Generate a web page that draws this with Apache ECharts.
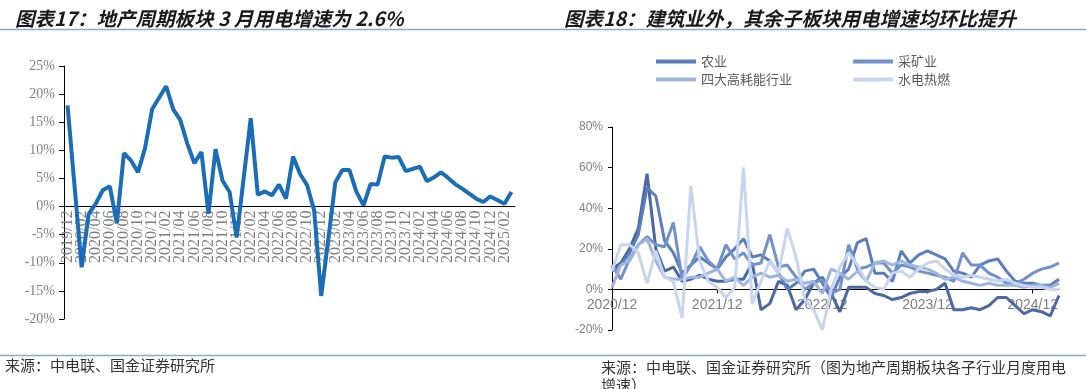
<!DOCTYPE html>
<html><head><meta charset="utf-8">
<script src="https://cdn.jsdelivr.net/npm/echarts@6/dist/echarts.min.js"></script>
<style>html,body{margin:0;padding:0;background:#fff}#c{width:1086px;height:389px}</style>
</head><body><div id="c"></div>
<script>
const titleLeft = '图表17：地产周期板块 3 月用电增速为 2.6%';
const titleRight = '图表18：建筑业外，其余子板块用电增速均环比提升';
const sourceLeft = '来源：中电联、国金证券研究所';
const sourceRight = '来源：中电联、国金证券研究所（图为地产周期板块各子行业月度用电增速）';

const leftCategories = ['2019/12',
 '2020/01','2020/02','2020/03','2020/04','2020/05','2020/06','2020/07','2020/08','2020/09','2020/10','2020/11','2020/12',
 '2021/01','2021/02','2021/03','2021/04','2021/05','2021/06','2021/07','2021/08','2021/09','2021/10','2021/11','2021/12',
 '2022/01','2022/02','2022/03','2022/04','2022/05','2022/06','2022/07','2022/08','2022/09','2022/10','2022/11','2022/12',
 '2023/01','2023/02','2023/03','2023/04','2023/05','2023/06','2023/07','2023/08','2023/09','2023/10','2023/11','2023/12',
 '2024/01','2024/02','2024/03','2024/04','2024/05','2024/06','2024/07','2024/08','2024/09','2024/10','2024/11','2024/12',
 '2025/01','2025/02','2025/03'];
const leftValues = [18.0,
 null,-10.8,-1.3,0.5,2.9,3.6,-3.0,9.5,8.2,6.1,10.4,17.3,
 null,21.4,17.3,15.4,11.2,7.7,9.7,-1.3,10.2,4.6,2.6,-5.5,
 null,15.7,2.1,2.7,2.0,3.9,1.4,8.9,5.8,3.8,-0.7,-15.9,
 null,4.3,6.5,6.5,2.6,0.2,4.0,3.9,8.9,8.7,8.8,6.3,
 null,7.1,4.5,5.2,6.1,5.1,4.0,3.2,2.3,1.4,0.8,1.8,
 null,0.5,2.6];

const rightCategories = ['2020/12',
 '2021/01','2021/02','2021/03','2021/04','2021/05','2021/06','2021/07','2021/08','2021/09','2021/10','2021/11','2021/12',
 '2022/01','2022/02','2022/03','2022/04','2022/05','2022/06','2022/07','2022/08','2022/09','2022/10','2022/11','2022/12',
 '2023/01','2023/02','2023/03','2023/04','2023/05','2023/06','2023/07','2023/08','2023/09','2023/10','2023/11','2023/12',
 '2024/01','2024/02','2024/03','2024/04','2024/05','2024/06','2024/07','2024/08','2024/09','2024/10','2024/11','2024/12',
 '2025/01','2025/02','2025/03'];
const construction = [10,13,20,30,57,20,9,11,4,5,7,5,4,4,5,5,13,-10,-7,4,2,-10,-5,3,6,-2,-11,1,1,1,-2,-3,-5,-4,-2,-1,-1,0,3,-10,-10,-9,-10,-8,-4,-4,-8,-12,-10,-11,-13,-3];
const agriculture = [9,12,18,27,50,46,24,18,8,12,16,13,10,16,20,25,16,17,14,8,0,3,9,10,3,-4,6,10,23,25,8,8,4,19,13,17,19,17,15,9,8,6,12,14,15,9,4,3,3,2,2,5];
const mining = [12,5,15,22,26,22,21,33,5,12,21,14,10,22,15,18,12,13,27,11,12,6,0,3,5,-2,0,22,10,11,13,13,8,12,11,9,8,7,6,4,18,12,12,8,6,3,3,5,8,10,11,13];
const heavyIndustry = [1,12,14,22,25,14,6,5,5,6,6,8,10,4,6,2,6,8,6,7,4,5,3,4,-2,10,8,5,9,4,13,14,12,14,12,11,10,8,5,6,4,3,2,3,2,2,2,1,2,2,1,3];
const utilities = [9,22,22,18,3,19,6,4,-14,51,14,4,1,-4,1,60,-7,4,14,8,30,16,-5,-10,-20,0,11,18,12,4,1,0,8,9,6,10,13,14,10,7,6,7,6,5,4,5,3,2,1,1,0,0];

const CJK = '"Noto Sans CJK SC"';
const chart = echarts.init(document.getElementById('c'), null, {renderer:'canvas'});
const axisBlack = {color:'#000', width:1};
const gray = '#7f7f7f';
const L = {left:64, top:66, bottom:70, h:253};
const R = {left:612, top:127, bottom:59, h:203};
const leftZeroOffset = -(L.h * 20/45);
const rightZeroOffset = -(R.h * 20/100);
function rline(name, data, color){
  return {name, type:'line', xAxisIndex:1, yAxisIndex:1, data, symbol:'none', smooth:false,
    lineStyle:{width:3, color}, itemStyle:{color}, emphasis:{disabled:true}};
}
chart.setOption({
  animation:false,
  title:[
    {text:titleLeft, left:10, top:4, textStyle:{fontFamily:CJK, fontSize:19.5, fontWeight:'bold', fontStyle:'italic', color:'#1a1a1a'}},
    {text:titleRight, left:559, top:4, textStyle:{fontFamily:CJK, fontSize:19.5, fontWeight:'bold', fontStyle:'italic', color:'#1a1a1a'}}
  ],
  graphic:[
    {type:'line', shape:{x1:0,y1:29.5,x2:1086,y2:29.5}, style:{stroke:'#8eabc0', lineWidth:1.5}},
    {type:'line', shape:{x1:0,y1:355.5,x2:1086,y2:355.5}, style:{stroke:'#8eabc0', lineWidth:1.5}},
    {type:'text', left:5, top:358, style:{text:sourceLeft, font:'15px '+CJK, fill:'#333'}},
    {type:'text', left:601, top:358, style:{text:sourceRight, width:472, overflow:'break', lineHeight:18, font:'15px '+CJK, fill:'#333'}}
  ],
  grid:[
    {left:L.left, right:571, top:L.top, bottom:L.bottom},
    {left:R.left, right:27, top:R.top, bottom:R.bottom}
  ],
  legend:[
    {data:['农业','四大高耗能行业'], left:651, top:50, orient:'vertical', icon:'rect', itemWidth:40, itemHeight:4, itemGap:5,
     textStyle:{fontFamily:CJK, fontSize:13, color:'#595959'}},
    {data:['采矿业','水电热燃'], left:848, top:50, orient:'vertical', icon:'rect', itemWidth:40, itemHeight:4, itemGap:5,
     textStyle:{fontFamily:CJK, fontSize:13, color:'#595959'}}
  ],
  xAxis:[
    {type:'category', gridIndex:0, data:leftCategories, boundaryGap:true, position:'bottom', offset:leftZeroOffset,
     axisLine:{onZero:false, lineStyle:axisBlack},
     axisTick:{interval:1, length:4, lineStyle:axisBlack},
     axisLabel:{interval:0, formatter:(v, i)=> (i % 2 === 0 ? v : ''), rotate:90, margin:4,
       fontFamily:'Liberation Serif', fontSize:16, color:gray}},
    {type:'category', gridIndex:1, data:rightCategories, boundaryGap:false, position:'bottom', offset:rightZeroOffset,
     axisLine:{onZero:false, lineStyle:axisBlack},
     axisTick:{interval:11, length:4, lineStyle:axisBlack},
     axisLabel:{interval:11, margin:9, fontFamily:'Liberation Sans', fontSize:14, color:gray}}
  ],
  yAxis:[
    {type:'value', gridIndex:0, min:-20, max:25, interval:5,
     axisLine:{show:true, lineStyle:axisBlack}, axisTick:{show:true, length:5, lineStyle:axisBlack},
     splitLine:{show:false},
     axisLabel:{formatter:'{value}%', margin:9, fontFamily:'Liberation Serif', fontSize:14, color:gray}},
    {type:'value', gridIndex:1, min:-20, max:80, interval:20,
     axisLine:{show:true, lineStyle:axisBlack}, axisTick:{show:true, length:4, lineStyle:axisBlack},
     splitLine:{show:false},
     axisLabel:{formatter:'{value}%', margin:9, fontFamily:'Liberation Sans', fontSize:12, color:gray}}
  ],
  series:[
    {name:'地产周期板块', type:'line', xAxisIndex:0, yAxisIndex:0, data:leftValues, connectNulls:true,
     symbol:'none', lineStyle:{width:4, color:'#1a6db6'}, itemStyle:{color:'#1a6db6'}},
    rline('建筑业', construction, '#4a68a5'),
    rline('农业', agriculture, '#5c7ebc'),
    rline('采矿业', mining, '#7091cc'),
    rline('四大高耗能行业', heavyIndustry, '#9db5e0'),
    rline('水电热燃', utilities, '#c8d5ee')
  ]
});
</script></body></html>
